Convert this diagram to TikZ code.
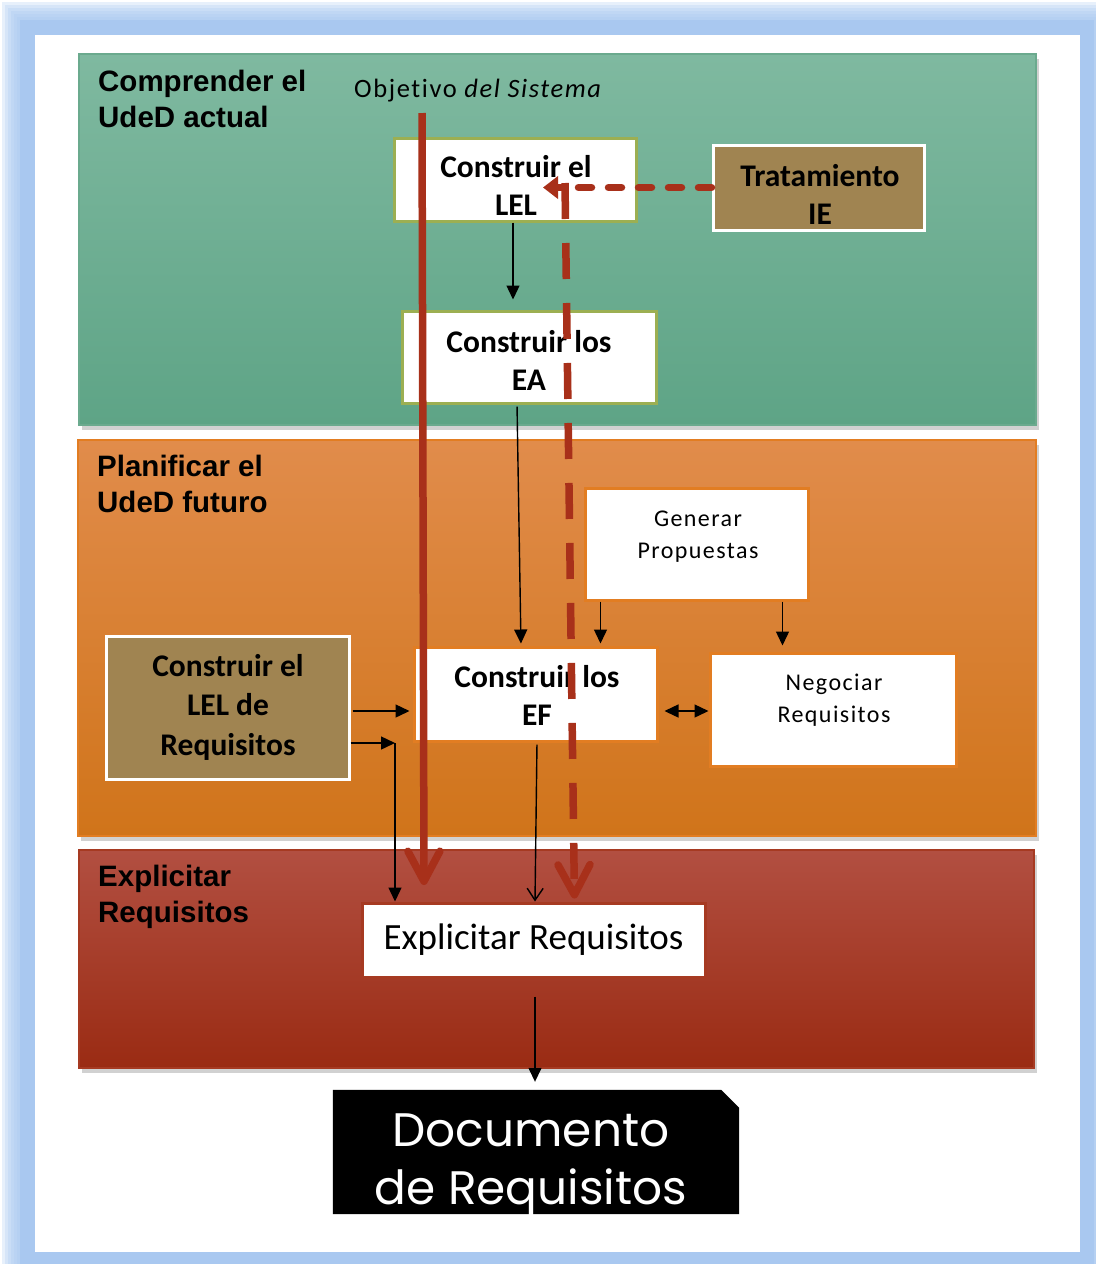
\documentclass[tikz,border=0pt]{standalone}
\usepackage{fontspec}
\setmainfont{Carlito}[Ligatures=NoCommon]
\newfontfamily\arialfont{Liberation Sans}
\newfontfamily\docfont{Poppins}
\newfontfamily\widefont{Carlito}[Ligatures=NoCommon, LetterSpace=6]
\usetikzlibrary{arrows.meta,shadows}

\definecolor{frameblue}{HTML}{A9C8F0}
\definecolor{greentop}{HTML}{7FB9A0}
\definecolor{greenbot}{HTML}{5EA486}
\definecolor{greenbd}{HTML}{6BAA8E}
\definecolor{orangetop}{HTML}{E18C4B}
\definecolor{orangebot}{HTML}{D0741A}
\definecolor{orangebd}{HTML}{E27D22}
\definecolor{redtop}{HTML}{B24F41}
\definecolor{redbot}{HTML}{9A2B13}
\definecolor{redbd}{HTML}{A63A22}
\definecolor{brownfill}{HTML}{A08451}
\definecolor{olivebd}{HTML}{9CAF52}
\definecolor{arrowred}{HTML}{A8301A}

\tikzset{
  band/.style={line width=1.2pt, drop shadow={shadow xshift=3pt, shadow yshift=-5pt, opacity=0.18, fill=black}},
  bandtitle/.style={anchor=north west, align=left, inner sep=0pt, font=\arialfont\bfseries\fontsize{29.5}{36}\selectfont},
  boxbase/.style={rectangle, inner sep=0pt, line width=3pt},
  olivebox/.style={boxbase, fill=white, draw=olivebd},
  brownbox/.style={boxbase, fill=brownfill, draw=white},
  orangebox/.style={boxbase, fill=white, draw=orangebd},
  boldtxt/.style={align=center, inner sep=0pt, font=\bfseries\fontsize{31.5}{38}\selectfont},
  plaintxt/.style={align=center, inner sep=0pt, font=\widefont\fontsize{24}{32}\selectfont},
  blk/.style={line width=1.4pt, -{Triangle[width=13pt,length=14pt]}},
  blkopen/.style={line width=1.4pt, -{Straight Barb[width=16pt,length=12pt]}},
  redline/.style={draw=arrowred, line width=7.5pt},
  chevron/.style={-{Straight Barb[width=32pt,length=30pt,line cap=round,round]}},
}

\begin{document}
\begin{tikzpicture}[x=1pt,y=-1pt]
\useasboundingbox (0,0) rectangle (1096,1264);

% soft blue frame
\foreach \i in {0,...,5}
  \fill[frameblue, opacity=0.28] (3*\i+2,3*\i+2) rectangle (1096,1264);
\fill[frameblue] (20,20) rectangle (1094,1264);
\fill[white] (35,35) rectangle (1080,1252);

% phase bands
\path[band, draw=greenbd, top color=greentop, bottom color=greenbot] (79,54) rectangle (1036,425);
\path[band, draw=orangebd, top color=orangetop, bottom color=orangebot] (78,440) rectangle (1036,836);
\path[band, draw=redbd, top color=redtop, bottom color=redbot] (79,850) rectangle (1034,1068);

\node[bandtitle] (t1) at (98,70) {Comprender el\\UdeD actual};
\node[bandtitle] (t2) at (97,455) {Planificar el\\UdeD futuro};
\node[bandtitle] (t3) at (98,865) {Explicitar\\Requisitos};

\node[anchor=west, inner sep=0pt, font=\widefont\fontsize{26.5}{30}\selectfont] (obj) at (354,91) {Objetivo \textit{del Sistema}};

% activity boxes
\node[olivebox, minimum width=242pt, minimum height=83pt] (lel) at (515,179.5) {};
\node[boldtxt] (lel-t) at (516,185) {Construir el\\LEL};
\node[olivebox, minimum width=254pt, minimum height=92pt] (ea) at (529,357) {};
\node[boldtxt] (ea-t) at (529,360) {Construir los\\EA};
\node[brownbox, minimum width=211pt, minimum height=85pt] (trat) at (818.5,187.5) {};
\node[boldtxt] (trat-t) at (820,194) {Tratamiento\\IE};
\node[orangebox, minimum width=223pt, minimum height=112pt] (gen) at (696.5,544) {};
\node[plaintxt] (gen-t) at (698,537) {Generar\\Propuestas};
\node[orangebox, minimum width=243pt, minimum height=94pt] (ef) at (535.5,694) {};
\node[boldtxt] (ef-t) at (537,695) {Construir los\\EF};
\node[orangebox, minimum width=246pt, minimum height=113pt] (neg) at (833,709.5) {};
\node[plaintxt] (neg-t) at (834,700) {Negociar\\Requisitos};
\node[brownbox, minimum width=243pt, minimum height=143pt] (lelreq) at (227.5,707.5) {};
\node[boldtxt, font=\bfseries\fontsize{31.5}{39.5}\selectfont] (lelreq-t) at (228,707) {Construir el\\LEL de\\Requisitos};
\node[boxbase, fill=white, draw=redbd, minimum width=343pt, minimum height=74pt, font=\fontsize{37}{40}\selectfont] (expl) at (533.5,940) {Explicitar Requisitos};

% final document
\node[minimum width=406pt, minimum height=124pt, inner sep=0pt] (doc) at (536,1152) {};
\fill[black] (doc.north west) -- ([xshift=-18pt]doc.north east) -- ([yshift=-18pt]doc.north east)
  -- (doc.south east) -- (doc.south west) -- cycle;
\node[align=center, inner sep=0pt, text=white, font=\docfont\fontsize{47}{58}\selectfont] (doc-t) at (531,1165) {Documento\\de Requisitos};

% black connectors
\coordinate (elbow) at (395,743);
\draw[blk, shorten >=10pt] ([xshift=-2pt]lel.south) -- ([xshift=-16pt]ea.north);
\draw[blk, shorten <=2pt, shorten >=2pt] ([xshift=-12pt]ea.south) -- ([xshift=-14.5pt]ef.north);
\draw[blk, shorten >=2pt] ([xshift=17pt]gen.south west) -- ([xshift=17pt]gen.south west |- ef.north);
\draw[blk, shorten >=6pt] ([xshift=-27pt]gen.south east) -- ([xshift=-27pt]gen.south east |- neg.north);
\draw[blk, shorten <=2pt, shorten >=3pt] ([yshift=-3.5pt]lelreq.east) -- ([yshift=-3.5pt]lelreq.east -| ef.west);
\draw[blk] ([yshift=-35.5pt]lelreq.east) -- (elbow);
\draw[blk] (elbow) -- (elbow |- expl.north);
\draw[blkopen, shorten <=2pt] ([xshift=1.5pt]ef.south) -- ([xshift=1.5pt]expl.north);
\draw[line width=1.4pt, {Triangle[width=13pt,length=14pt]}-{Triangle[width=13pt,length=14pt]}, shorten <=6pt]
  ([yshift=-17pt]ef.east) -- ([yshift=-17pt]ef.east -| neg.west);
\draw[blk, shorten <=18pt, shorten >=8pt] ([xshift=1.5pt]expl.south) -- ([xshift=1.5pt]expl.south |- doc.north);

% red flow lines
\coordinate (objtop) at (422,113);
\coordinate (objend) at (424,885);
\draw[redline, chevron] (objtop) -- (objend);

\coordinate (ietip) at (543,187.5);
\draw[redline, line cap=round, dash pattern=on 13pt off 17pt, -{Triangle[width=22pt,length=15pt]}]
  (trat.west) -- (ietip);
\coordinate (dashtop) at (565,183);
\draw[redline, dash pattern=on 36pt off 24pt, chevron, shorten >=3pt]
  (dashtop) -- ([xshift=41pt]expl.north);
\end{tikzpicture}
\end{document}
